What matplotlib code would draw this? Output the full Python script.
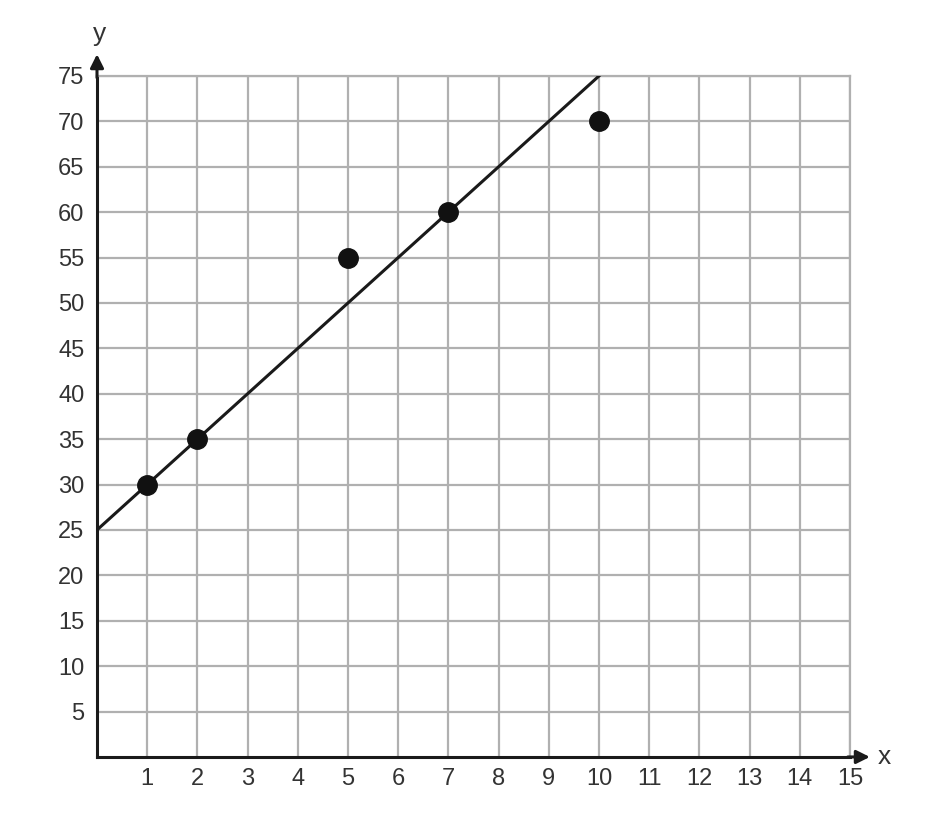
import matplotlib.pyplot as plt

plt.rcParams.update({
    "font.family": ["Liberation Sans", "DejaVu Sans"],
})

# data points and the drawn line of best fit
pts_x = [1, 2, 5, 7, 10]
pts_y = [30, 35, 55, 60, 70]
line_x = [0, 10]
line_y = [25, 75]

x_ticks = list(range(1, 16))
y_ticks = list(range(5, 80, 5))

fig = plt.figure(figsize=(9.3, 8.3), dpi=100)
ax = fig.add_axes([0.1043, 0.088, 0.8097, 0.8205])

ax.set_xlim(0, 15)
ax.set_ylim(0, 75)
ax.set_xticks(x_ticks)
ax.set_yticks(y_ticks)
ax.grid(True, color='#b0b0b0', lw=1.6)
ax.set_axisbelow(True)

for s in ['top', 'right']:
    ax.spines[s].set_color('#b0b0b0')
    ax.spines[s].set_linewidth(1.6)
for s in ['left', 'bottom']:
    ax.spines[s].set_color('#1a1a1a')
    ax.spines[s].set_linewidth(2.2)

ax.tick_params(axis='both', length=0, labelsize=17, labelcolor='#333333')
ax.tick_params(axis='x', pad=8)
ax.tick_params(axis='y', pad=9)

ax.plot(line_x, line_y, '-', color='#1a1a1a', lw=2.2, zorder=3)
ax.plot(pts_x, pts_y, 'o', color='#111111', ms=14, zorder=4)

# axis arrows
ax.annotate('', xy=(15.45, 0), xytext=(14.9, 0), annotation_clip=False,
            arrowprops=dict(arrowstyle='-|>', color='#1a1a1a', lw=2.2,
                            mutation_scale=20))
ax.annotate('', xy=(0, 77.7), xytext=(0, 74.5), annotation_clip=False,
            arrowprops=dict(arrowstyle='-|>', color='#1a1a1a', lw=2.2,
                            mutation_scale=20))
ax.text(15.55, 0, 'x', fontsize=19, color='#333333', ha='left', va='center',
        clip_on=False)
ax.text(0.05, 78.3, 'y', fontsize=19, color='#333333', ha='center', va='bottom',
        clip_on=False)

plt.savefig('out.png', dpi=100)
